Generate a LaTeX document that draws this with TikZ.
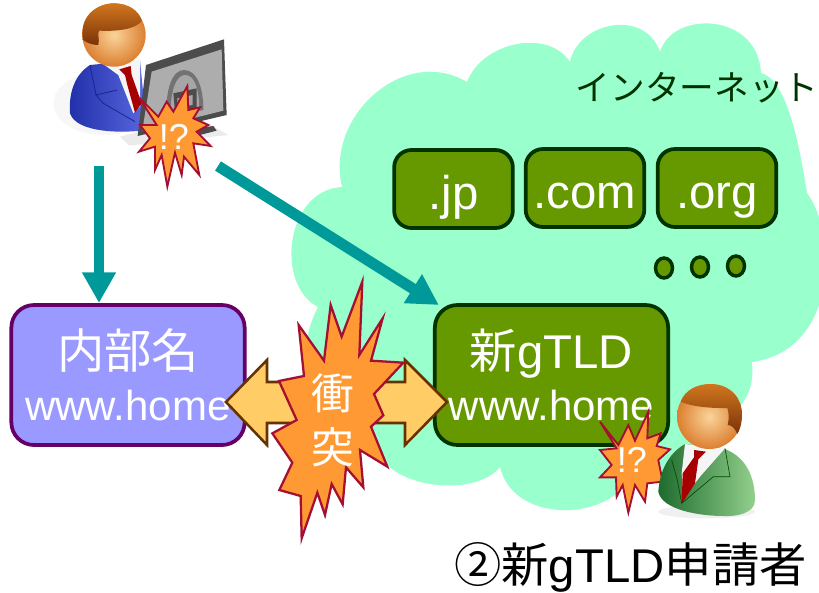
\documentclass[tikz,border=0pt]{standalone}
\usepackage{fontspec}
\setmainfont{Liberation Sans}
\newfontfamily\cjk{Noto Sans CJK JP}
\newcommand{\cj}[1]{{\cjk #1}}
\newcommand{\bigline}{\fontsize{35.5}{39}\selectfont}
\usetikzlibrary{arrows.meta}
\definecolor{cloudc}{HTML}{99FFCC}
\definecolor{teal1}{HTML}{009999}
\definecolor{grn}{HTML}{669900}
\definecolor{dgrn}{HTML}{003300}
\definecolor{purp}{HTML}{660066}
\definecolor{lav}{HTML}{9999FF}
\definecolor{burstf}{HTML}{FF9933}
\definecolor{burstd}{HTML}{A50F33}
\definecolor{dblf}{HTML}{FFCC66}
\definecolor{dbld}{HTML}{663300}
\definecolor{skinin}{HTML}{FAD49A}
\definecolor{skinout}{HTML}{DC7F30}
\definecolor{bluedk}{HTML}{2030A8}
\definecolor{bluelt}{HTML}{5A68E0}
\definecolor{bluelin}{HTML}{1A2590}
\definecolor{grndk}{HTML}{1E6B2E}
\definecolor{grnlt}{HTML}{92CF8C}
\definecolor{hairlt}{HTML}{D0761E}
\definecolor{hairdk}{HTML}{7A3208}
\tikzset{
  tldbox/.style={draw=dgrn,fill=grn,line width=2.8pt,rounded corners=13pt,inner sep=0pt,outer sep=0pt,
    text=white,align=center},
  smallbox/.style={tldbox,minimum width=89pt,minimum height=58.5pt,font=\fontsize{35.5}{40}\selectfont,
    text height=32pt,text depth=2pt},
  bigbox/.style={tldbox,minimum width=175pt,minimum height=105pt,rounded corners=17pt,font=\fontsize{31.5}{39}\selectfont},
  tealarrow/.style={draw=teal1,line width=8.2pt,-{Triangle[length=23pt,width=24pt]}},
  burstshape/.style={draw=burstd,fill=burstf,line width=1.7pt,line join=miter,miter limit=8},
  burstlabel/.style={text=white,inner sep=0pt},
  faceskin/.style={inner color=skinin,outer color=skinout},
}
\begin{document}
\begin{tikzpicture}[x=0.75pt,y=-0.75pt]
\useasboundingbox (0,0) rectangle (819,593);
\clip (0,0) rectangle (819,593);
% cloud
\fill[cloudc] (467,82) .. controls (482,42) and (548,28) .. (570,62)
  .. controls (578,22) and (645,8) .. (660,52)
  .. controls (672,10) and (758,12) .. (761,73)
  .. controls (788,80) and (800,150) .. (807,193)
  .. controls (838,235) and (838,350) .. (752,362)
  .. controls (754,385) and (748,395) .. (740,407)
  .. controls (722,475) and (655,492) .. (634,463)
  .. controls (628,520) and (515,530) .. (500,467)
  .. controls (478,495) and (405,490) .. (383,460)
  .. controls (335,450) and (280,380) .. (318,307)
  .. controls (275,285) and (285,190) .. (342,187)
  .. controls (325,115) and (405,45) .. (467,82) -- cycle;
% text cloud
\node[text=dgrn,font=\cjk\fontsize{26}{30}\selectfont,inner sep=0pt] (inet) at (697,88) {インターネット};
% boxes
\node[smallbox] (jp) at (453.5,189) {.jp};
\node[smallbox] (com) at (585,188) {.com};
\node[smallbox] (org) at (717,188) {.org};
\foreach \x/\y in {664/268,700/267,736/266}{
  \path[draw=dgrn,fill=grn,line width=2.6pt] (\x,\y) ellipse [x radius=8.5,y radius=10];
}
\node[bigbox,draw=purp,fill=lav,line width=2.8pt] (intern) at (128,375) {{\bigline\cj{内部名}}\\www.home};
\node[bigbox] (gtld) at (551.5,375) {{\bigline\cj{新}gTLD}\\www.home};
% arrows
\coordinate (user) at (99,166);
\coordinate (userb) at (218,166);
\draw[tealarrow,shorten >=1.5pt] (user) -- (user |- intern.north);
\draw[tealarrow] (userb) -- ([xshift=3pt]gtld.north west);
% collision double arrow
\path[draw=dbld,fill=dblf,line width=1.9pt,line join=miter]
  (226,402) -- (267,360) -- (267,382) -- (405,382) -- (405,360) -- (447,402)
  -- (405,445) -- (405,423) -- (267,423) -- (267,445) -- cycle;
% big burst
\begin{scope}[shift={(220,270)},x=0.25pt,y=-0.25pt]
\path[burstshape] (427,35) -- (418,255) -- (488,145) -- (453,272) -- (550,278) -- (462,372) -- (490,436)
 -- (453,470) -- (502,590) -- (420,540) -- (430,652) -- (378,592) -- (368,703) -- (335,642) -- (315,735)
 -- (292,668) -- (245,805) -- (242,678) -- (178,660) -- (217,578) -- (157,490) -- (230,450) -- (177,333)
 -- (252,318) -- (236,165) -- (312,272) -- (332,105) -- (365,200) -- cycle;
\end{scope}
\node[burstlabel,font=\cjk\fontsize{32}{38}\selectfont] (cl1) at (333,393) {衝};
\node[burstlabel,font=\cjk\fontsize{32}{38}\selectfont] (cl2) at (333,447) {突};
% applicant caption
\node[inner sep=0pt,font=\fontsize{35.5}{40}\selectfont,anchor=base west] (cap) at (454,582) {\cj{②新}gTLD\cj{申請者}};
% person 1
\begin{scope}[shift={(40,0)},x=0.25pt,y=-0.25pt]
\fill[black!3] (190,310) ellipse [x radius=150,y radius=95];
\fill[black!8] (240,410) -- (470,350) -- (565,405) -- (268,437) -- cycle;
\path[left color=bluedk,right color=bluelt] (90,340) .. controls (85,270) and (110,220) .. (150,195)
  -- (300,180) -- (320,390) .. controls (250,400) and (110,400) .. (90,340) -- cycle;
\fill[white!92!gray] (180,185) -- (300,180) -- (300,320) -- (280,340) -- (235,225) -- cycle;
\fill[red!65!black] (238,208) -- (272,198) -- (275,225) -- (305,310) -- (285,338) -- (262,255) -- (255,225) -- cycle;
\draw[bluelin,line width=.6pt] (150,195) -- (168,285) -- (232,270) (168,285) -- (190,310) -- (285,365);
\path[faceskin] (222,105) circle [radius=95];
\path[top color=hairlt,bottom color=hairdk] (130,120) .. controls (115,55) and (165,10) .. (222,10)
  .. controls (265,10) and (295,30) .. (306,62) .. controls (290,85) and (240,95) .. (178,92)
  .. controls (170,100) and (180,115) .. (175,135) .. controls (160,135) and (142,130) .. (130,120) -- cycle;
\fill[black!70] (318,195) -- (552,118) -- (560,345) -- (293,408) -- cycle;
\fill[black!32] (335,215) -- (545,148) -- (550,332) -- (307,392) -- cycle;
\fill[black!55] (380,355) .. controls (375,260) and (400,210) .. (432,210)
  .. controls (470,210) and (490,260) .. (490,330) -- cycle;
\fill[black!35] (392,350) .. controls (390,270) and (410,225) .. (435,225)
  .. controls (465,225) and (478,270) .. (478,335) -- cycle;
\fill[black!70] (400,280) -- (470,265) -- (470,325) -- (405,335) -- cycle;
\fill[black!35] (412,295) -- (458,285) -- (458,315) -- (412,322) -- cycle;
\fill[black!70] (470,385) -- (520,378) -- (530,392) -- (480,405) -- cycle;
\path[burstshape,line width=1.4pt] (297,292) -- (355,350) -- (380,305) -- (400,335) -- (442,258) -- (445,330)
 -- (480,322) -- (460,355) -- (505,375) -- (470,395) -- (512,438) -- (460,430) -- (478,525) -- (432,470)
 -- (425,525) -- (405,458) -- (382,560) -- (365,465) -- (345,510) -- (345,440) -- (297,455) -- (330,415)
 -- (300,375) -- (350,375) -- cycle;
\end{scope}
\node[burstlabel,font=\fontsize{27}{30}\selectfont] (q1) at (174,137) {!?};
% person 2
\begin{scope}[shift={(590,370)},x=0.25pt,y=-0.25pt]
\path[burstshape,line width=1.4pt] (30,155) -- (85,225) -- (115,165) -- (135,212) -- (175,125) -- (172,205)
 -- (212,190) -- (200,228) -- (240,238) -- (205,270) -- (218,335) -- (172,340) -- (165,395) -- (135,345)
 -- (115,428) -- (98,345) -- (80,380) -- (78,322) -- (30,322) -- (65,285) -- (30,240) -- (80,235) -- cycle;
\fill[black!6] (350,425) ellipse [x radius=145,y radius=20];
\path[left color=grndk,right color=grnlt] (205,365) .. controls (210,290) and (245,245) .. (285,222)
  -- (385,232) .. controls (450,245) and (495,300) .. (495,390)
  .. controls (495,430) and (440,440) .. (400,438) .. controls (330,438) and (215,420) .. (205,365) -- cycle;
\fill[white!92!gray] (285,222) -- (405,235) -- (330,320) -- (280,385) -- (275,310) -- cycle;
\fill[red!65!black] (312,240) -- (348,245) -- (325,268) -- (315,340) -- (275,402) -- (278,310) -- (312,262) -- cycle;
\draw[green!30!black,line width=.5pt] (245,270) -- (262,330) -- (275,400) (275,400) -- (370,320) -- (420,320) -- (405,235);
\path[faceskin] (358,140) circle [radius=97];
\path[top color=hairlt,bottom color=hairdk] (272,95) .. controls (285,60) and (320,42) .. (362,42)
  .. controls (425,42) and (458,90) .. (456,135) .. controls (455,160) and (450,180) .. (442,192)
  .. controls (435,175) and (425,165) .. (413,165) .. controls (418,145) and (416,125) .. (412,114)
  .. controls (360,115) and (305,110) .. (272,95) -- cycle;
\end{scope}
\node[burstlabel,font=\fontsize{27}{30}\selectfont] (q2) at (632,460) {!?};
\end{tikzpicture}
\end{document}
